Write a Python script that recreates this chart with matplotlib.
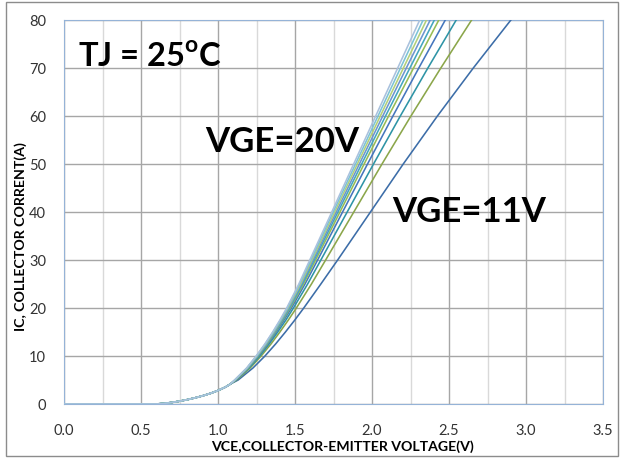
import matplotlib
matplotlib.use("Agg")
import matplotlib.pyplot as plt
from matplotlib.patches import Rectangle
from matplotlib.ticker import MultipleLocator

plt.rcParams["font.family"] = ["Lato", "DejaVu Sans"]
plt.rcParams["mathtext.fontset"] = "custom"
plt.rcParams["mathtext.bf"] = "Lato:bold"
plt.rcParams["mathtext.rm"] = "Lato"

# shared low-current part (all curves overlap here)
vce_common = [0.0, 0.60, 0.65, 0.70, 0.75, 0.80, 0.85, 0.90, 0.95, 1.00, 1.05, 1.08]
ic_common = [0, 0, 0.12, 0.32, 0.58, 0.90, 1.27, 1.70, 2.20, 2.80, 3.55, 4.15]

# collector current levels, and the VCE where each VGE curve crosses them
ic_levels = [5, 7.5, 10, 12.5, 15, 17.5, 20, 25, 30, 40, 50, 60, 70, 80, 85]
vge_labels = ["11V", "12V", "13V", "14V", "15V", "16V", "17V", "18V", "19V", "20V"]
vce_11 = [1.131, 1.227, 1.305, 1.374, 1.438, 1.499, 1.557, 1.668, 1.777, 1.990, 2.203, 2.425, 2.658, 2.902, 3.027]
vce_12 = [1.121, 1.209, 1.280, 1.344, 1.402, 1.457, 1.509, 1.607, 1.699, 1.882, 2.065, 2.253, 2.447, 2.647, 2.749]
vce_13 = [1.117, 1.202, 1.271, 1.332, 1.388, 1.441, 1.490, 1.582, 1.668, 1.839, 2.010, 2.184, 2.363, 2.547, 2.639]
vce_14 = [1.114, 1.197, 1.264, 1.324, 1.378, 1.429, 1.477, 1.565, 1.647, 1.809, 1.971, 2.136, 2.304, 2.476, 2.562]
vce_15 = [1.113, 1.195, 1.260, 1.319, 1.372, 1.422, 1.469, 1.555, 1.634, 1.792, 1.949, 2.108, 2.270, 2.434, 2.517]
vce_16 = [1.112, 1.193, 1.257, 1.315, 1.368, 1.418, 1.464, 1.548, 1.625, 1.779, 1.933, 2.088, 2.246, 2.405, 2.484]
vce_17 = [1.111, 1.191, 1.255, 1.312, 1.365, 1.413, 1.459, 1.541, 1.617, 1.768, 1.918, 2.070, 2.223, 2.378, 2.455]
vce_18 = [1.110, 1.189, 1.252, 1.309, 1.361, 1.409, 1.454, 1.536, 1.610, 1.758, 1.905, 2.054, 2.204, 2.354, 2.429]
vce_19 = [1.109, 1.188, 1.250, 1.307, 1.358, 1.406, 1.450, 1.530, 1.603, 1.748, 1.893, 2.039, 2.185, 2.332, 2.405]
vce_20 = [1.108, 1.186, 1.248, 1.304, 1.355, 1.402, 1.446, 1.525, 1.596, 1.739, 1.881, 2.024, 2.167, 2.310, 2.381]
curves = [vce_11, vce_12, vce_13, vce_14, vce_15, vce_16, vce_17, vce_18, vce_19, vce_20]

colors = ["#3C6DA8", "#8BA64A", "#2E94A6", "#4576BD", "#97BC55",
          "#44A6BF", "#6D95CF", "#B3D07A", "#7CC3D6", "#A9C1DD"]

x_ticks = [0.0, 0.5, 1.0, 1.5, 2.0, 2.5, 3.0, 3.5]
y_ticks = [0, 10, 20, 30, 40, 50, 60, 70, 80]

fig = plt.figure(figsize=(6.25, 4.6), dpi=100)
ax = fig.add_axes([0.1024, 0.1196, 0.8624, 0.8348])

# outer chart border
fig.patches.append(Rectangle((0.0096, 0.0065), 0.979, 0.987, transform=fig.transFigure,
                             fill=False, edgecolor="#8C8C8C", linewidth=1.0))

for vce, col in zip(curves, colors):
    ax.plot(vce_common + vce, ic_common + ic_levels, color=col, linewidth=1.15,
            solid_joinstyle="round", zorder=3)

ax.set_xlim(0, 3.5)
ax.set_ylim(0, 80)
ax.set_xticks(x_ticks)
ax.set_xticklabels([f"{v:.1f}" for v in x_ticks])
ax.set_yticks(y_ticks)
ax.xaxis.set_minor_locator(MultipleLocator(0.25))
ax.grid(True, which="major", color="#A6A6A6", linewidth=1.0, zorder=0)
ax.grid(True, which="minor", axis="x", color="#D9D9D9", linewidth=1.0, zorder=0)
ax.set_axisbelow(True)
ax.tick_params(which="both", length=0)
ax.tick_params(axis="x", pad=14, labelsize=10.5, labelcolor="#333333")
ax.tick_params(axis="y", pad=13, labelsize=10.5, labelcolor="#333333")
for s in ax.spines.values():
    s.set_color("#95B3D7")
    s.set_linewidth(0.8)

# axis titles
ax.text(0.516, -0.109, "VCE,COLLECTOR-EMITTER VOLTAGE(V)", transform=ax.transAxes,
        fontsize=10.2, fontweight="bold", ha="center", va="center")
ax.text(-0.080, 0.438, "IC, COLLECTOR CORRENT(A)", transform=ax.transAxes,
        fontsize=10.2, fontweight="bold", ha="center", va="center", rotation=90)

# annotations
ax.text(0.026, 0.880, r"TJ = 25$^{\mathbf{o}}$C", transform=ax.transAxes,
        fontsize=23.5, fontweight="bold", va="baseline", ha="left")
ax.text(0.2616, 0.659, "VGE=20V", transform=ax.transAxes,
        fontsize=25, fontweight="bold", va="baseline", ha="left")
ax.text(0.6085, 0.4766, "VGE=11V", transform=ax.transAxes,
        fontsize=25, fontweight="bold", va="baseline", ha="left")

fig.savefig("out.png", dpi=100)
